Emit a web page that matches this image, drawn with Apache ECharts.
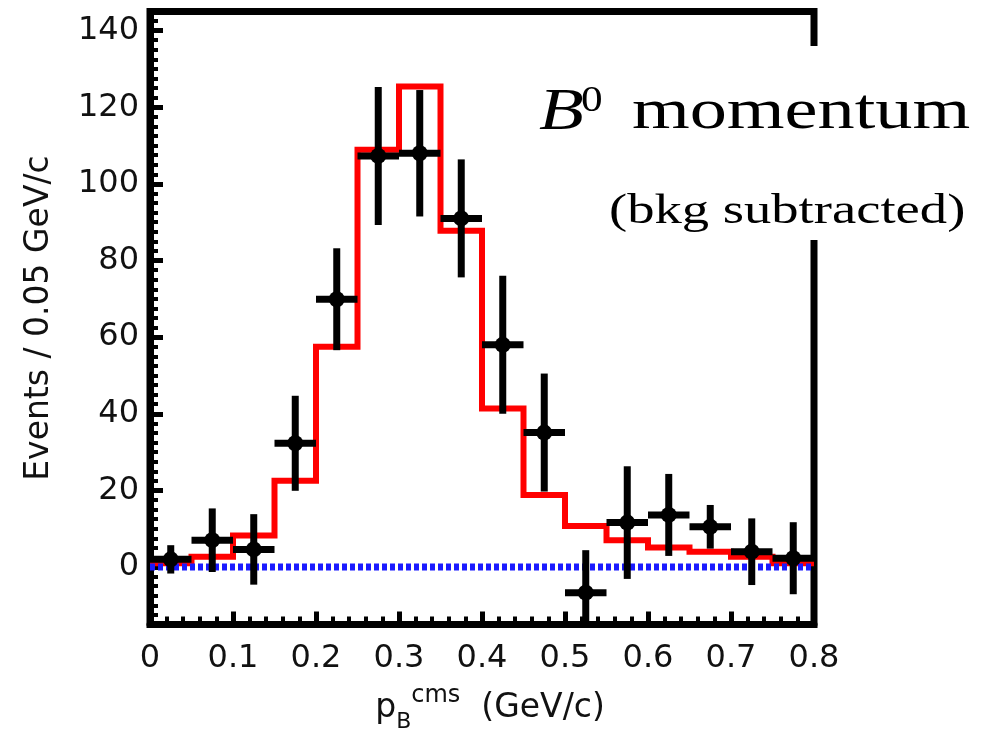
<!DOCTYPE html>
<html><head><meta charset="utf-8">
<script src="https://cdn.jsdelivr.net/npm/echarts@6/dist/echarts.min.js"></script>
<style>html,body{margin:0;padding:0;background:#fff;}#c{width:988px;height:729px;}</style>
</head><body><div id="c"></div>
<script>
// ---- data ----
const binEdges   = [0,0.05,0.1,0.15,0.2,0.25,0.3,0.35,0.4,0.45,0.5,0.55,0.6,0.65,0.7,0.75,0.8];
const binCenters = [0.025,0.075,0.125,0.175,0.225,0.275,0.325,0.375,0.425,0.475,0.525,0.575,0.625,0.675,0.725,0.775];
const dataValues = [2.0, 7.0, 4.6, 32.3, 69.9, 107.3, 108.0, 91.0, 58.0, 35.1, -6.7, 11.6, 13.6, 10.5, 4.0, 2.3];
const dataErrors = [3.7, 8.3, 9.2, 12.4, 13.3, 18.0, 16.5, 15.4, 18.0, 15.4, 11.1, 14.7, 10.7, 5.7, 8.7, 9.4];
const fitValues  = [1.0, 2.7, 8.2, 22.5, 57.5, 108.9, 125.4, 87.8, 41.4, 18.8, 10.7, 7.0, 5.1, 4.0, 2.7, 1.0];
const zeroLineX  = [0, 0.8];
const zeroLineY  = [0, 0];
const xTicks     = [0,0.1,0.2,0.3,0.4,0.5,0.6,0.7,0.8];
const yTicks     = [0,20,40,60,80,100,120,140];
const Y_MIN = -15, Y_MAX = 145, BIN_HALF = 0.025;

// ---- derived ----
const fitPath = [];
fitValues.forEach((v,i)=>{ fitPath.push([binEdges[i], v]); fitPath.push([binEdges[i+1], v]); });
const zeroPath = zeroLineX.map((x,i)=>[x, zeroLineY[i]]);
const points = binCenters.map((c,i)=>[c, dataValues[i], dataErrors[i]]);
const yMinor = [];
for (let v = Y_MIN; v <= Y_MAX + 1e-9; v += 2.5) { if (yTicks.indexOf(v) < 0) yMinor.push(v); }

const SANS = "'DejaVu Sans', sans-serif";
const SERIF = "'Liberation Serif', 'Times New Roman', serif";

const chart = echarts.init(document.getElementById('c'), null, {renderer:'canvas'});
chart.setOption({
  animation: false,
  backgroundColor: '#fff',
  grid: { left: 150, right: 174, top: 11.5, bottom: 104.5, containLabel: false, outerBoundsMode: 'none',
          show: true, borderColor: '#000', borderWidth: 7, backgroundColor: 'transparent' },
  xAxis: {
    type: 'value', min: xTicks[0], max: xTicks[xTicks.length-1], interval: 0.1,
    axisLine: { show: true, onZero: false, lineStyle: { color: '#000', width: 7 } },
    axisTick: { show: true, inside: true, length: 13, lineStyle: { color: '#000', width: 5 } },
    minorTick: { show: true, splitNumber: 5, length: 8, lineStyle: { color: '#000', width: 4 } },
    splitLine: { show: false },
    axisLabel: { fontFamily: SANS, fontSize: 32, color: '#111', margin: 18,
      formatter: v => v === 0 ? '0' : String(+v.toFixed(1)) },
    name: '{p|p}{sub|B}{sup|cms}{t|  (GeV/c)}',
    nameLocation: 'middle', nameGap: 59,
    nameTextStyle: {
      lineHeight: 50, padding: [0, 0, 0, 16],
      rich: {
        p:   { fontFamily: SANS, fontSize: 33, color: '#111', lineHeight: 50, verticalAlign: 'middle' },
        sub: { fontFamily: SANS, fontSize: 22, color: '#111', lineHeight: 22, verticalAlign: 'bottom' },
        sup: { fontFamily: SANS, fontSize: 24, color: '#111', lineHeight: 24, verticalAlign: 'top' },
        t:   { fontFamily: SANS, fontSize: 33, color: '#111', lineHeight: 50, verticalAlign: 'middle' }
      }
    }
  },
  yAxis: [{
    type: 'value', min: Y_MIN, max: Y_MAX,
    axisLine: { show: true, onZero: false, lineStyle: { color: '#000', width: 7 } },
    axisTick: { show: true, inside: true, length: 13, customValues: yTicks, lineStyle: { color: '#000', width: 5 } },
    splitLine: { show: false },
    axisLabel: { customValues: yTicks, fontFamily: SANS, fontSize: 32, color: '#111', margin: 11 },
    name: 'Events / 0.05 GeV/c', nameLocation: 'middle', nameGap: 94,
    nameTextStyle: { fontFamily: SANS, fontSize: 33, color: '#111' }
  }, {
    type: 'value', min: Y_MIN, max: Y_MAX, position: 'left',
    axisLine: { show: false, onZero: false },
    axisTick: { show: true, inside: true, length: 8, customValues: yMinor, lineStyle: { color: '#000', width: 4 } },
    axisLabel: { show: false }, splitLine: { show: false }
  }],
  series: [
    { type: 'line', data: fitPath, showSymbol: false, symbol: 'none', z: 2,
      lineStyle: { color: '#ff0000', width: 6, join: 'miter', cap: 'butt' } },
    { type: 'line', data: zeroPath, showSymbol: false, symbol: 'none', z: 3,
      lineStyle: { color: '#1a1aff', width: 7, type: [5, 3], cap: 'butt' } },
    { type: 'custom', z: 4, data: points,
      renderItem: function (params, api) {
        const x = api.value(0), y = api.value(1), e = api.value(2);
        const top = api.coord([x, Math.min(y + e, Y_MAX)]);
        const bot = api.coord([x, Math.max(y - e, Y_MIN)]);
        const l = api.coord([x - BIN_HALF, y]);
        const r = api.coord([x + BIN_HALF, y]);
        const c = api.coord([x, y]);
        const st = { stroke: '#000', lineWidth: 7, fill: null };
        return { type: 'group', children: [
          { type: 'line', shape: { x1: top[0], y1: top[1], x2: bot[0], y2: bot[1] }, style: st },
          { type: 'line', shape: { x1: l[0], y1: l[1], x2: r[0], y2: r[1] }, style: st },
          { type: 'circle', shape: { cx: c[0], cy: c[1], r: 8 }, style: { fill: '#000' } }
        ]};
      }
    }
  ],
  graphic: [
    { type: 'rect', shape: { x: 525, y: 46, width: 455, height: 194 }, style: { fill: '#fff' }, z: 100 },
    { type: 'text', x: 539, y: 113, scaleX: 1.22, z: 101,
      style: { text: 'B', x: 0, y: 0, font: 'italic 60px ' + SERIF, fill: '#000', textAlign: 'left', verticalAlign: 'middle' } },
    { type: 'text', x: 581, y: 102, scaleX: 1.2, z: 101,
      style: { text: '0', x: 0, y: 0, font: '36px ' + SERIF, fill: '#000', textAlign: 'left', verticalAlign: 'middle' } },
    { type: 'text', x: 632, y: 113, scaleX: 1.28, z: 101,
      style: { text: 'momentum', x: 0, y: 0, font: '58px ' + SERIF, fill: '#000', textAlign: 'left', verticalAlign: 'middle' } },
    { type: 'text', x: 609, y: 212, scaleX: 1.27, z: 101,
      style: { text: '(bkg subtracted)', x: 0, y: 0, font: '43px ' + SERIF, fill: '#000', textAlign: 'left', verticalAlign: 'middle' } }
  ]
});
</script>
</body></html>
